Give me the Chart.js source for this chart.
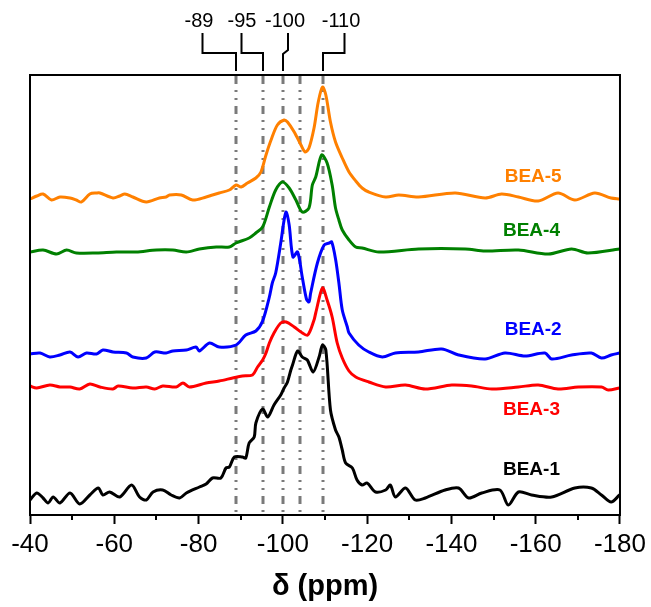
<!DOCTYPE html>
<html><head><meta charset="utf-8">
<script src="https://cdn.jsdelivr.net/npm/chart.js@4.4.1/dist/chart.umd.min.js"></script>
<style>html,body{margin:0;padding:0;background:#fff}canvas{display:block}</style>
</head><body>
<canvas id="c" width="651" height="607"></canvas>
<script>
// ---- data (x: chemical shift in ppm, y: stacked intensity, arbitrary units) ----
const seriesNames = ['BEA-5', 'BEA-4', 'BEA-2', 'BEA-3', 'BEA-1'];
const seriesColors = ['#FF8000', '#008000', '#0000FF', '#FF0000', '#000000'];

const bea5Ppm = [-40.0,-41.6,-43.1,-45.1,-47.1,-49.5,-51.0,-52.2,-54.2,-55.8,-56.6,-59.7,-61.3,-62.5,-64.4,-67.6,-70.7,-72.3,-73.1,-75.9,-78.6,-81.8,-83.3,-84.9,-87.3,-88.9,-90.1,-91.6,-93.6,-94.8,-96.0,-97.2,-98.7,-100.3,-101.1,-102.7,-104.3,-105.3,-106.2,-107.4,-108.4,-109.4,-110.2,-111.3,-112.5,-114.1,-115.7,-117.3,-118.8,-120.4,-124.4,-127.5,-132.2,-140.9,-148.0,-151.9,-155.9,-160.6,-165.3,-169.3,-174.0,-177.9,-179.9];
const bea5Int = [316,319,321,315,318,317,315,313,321,322,322,317,319,321,318,313,317,318,320,320,315,318,320,322,325,330,328,332,337,343,360,375,390,395,393,383,370,363,367,387,413,428,420,393,373,357,343,334,327,323,318,320,318,322,317,321,318,314,322,315,322,317,316];

const bea4Ppm = [-40.0,-43.1,-46.3,-48.7,-51.0,-55.8,-60.5,-65.2,-70.0,-73.9,-77.1,-80.2,-84.2,-87.3,-88.9,-92.0,-93.6,-95.2,-96.8,-98.3,-99.9,-101.5,-103.1,-104.6,-106.2,-107.0,-107.8,-109.2,-110.5,-111.7,-112.5,-113.3,-114.1,-115.7,-117.3,-118.8,-122.8,-132.2,-143.3,-148.0,-155.9,-163.0,-168.5,-172.4,-179.9];
const bea4Int = [263,265,261,265,262,262,263,263,265,265,263,266,268,268,272,277,282,288,308,325,333,327,315,303,307,330,338,360,352,330,307,295,285,275,268,267,263,266,266,264,265,261,266,262,266];

const bea2Ppm = [-40.0,-42.4,-44.7,-47.1,-49.5,-51.4,-53.4,-55.8,-57.3,-59.7,-62.9,-64.4,-67.6,-69.6,-72.3,-73.9,-77.1,-79.4,-80.2,-82.6,-84.9,-88.9,-91.2,-93.6,-95.2,-96.8,-97.5,-98.3,-99.5,-100.3,-100.8,-101.5,-102.4,-103.5,-104.6,-105.6,-106.2,-106.6,-108.2,-109.8,-111.0,-111.6,-112.5,-113.3,-114.1,-115.3,-115.7,-118.0,-120.4,-123.6,-126.7,-132.2,-137.7,-141.7,-148.0,-152.7,-157.5,-162.2,-163.8,-168.5,-173.2,-175.6,-177.9,-179.9];
const bea2Int = [161,162,158,160,163,158,162,161,165,163,162,158,157,163,162,164,165,168,164,172,168,170,180,184,194,218,232,242,272,295,303,290,258,263,238,216,213,222,252,270,272,273,256,232,205,188,182,170,163,158,162,163,166,160,156,162,159,162,156,160,162,157,160,162];

const bea3Ppm = [-40.0,-41.6,-44.7,-47.1,-49.5,-51.8,-54.2,-56.6,-59.7,-60.9,-64.4,-67.6,-69.6,-71.5,-74.7,-76.3,-77.8,-81.8,-84.9,-88.1,-90.4,-92.8,-94.0,-95.2,-96.0,-96.8,-97.9,-99.5,-100.8,-102.7,-104.3,-105.9,-107.4,-107.8,-109.4,-110.5,-111.7,-112.9,-114.1,-115.7,-117.3,-120.4,-124.4,-129.1,-133.8,-140.1,-144.8,-149.6,-155.9,-160.6,-165.3,-170.1,-175.6,-177.2,-179.9];
const bea3Int = [129,127,130,128,128,126,131,128,126,129,127,128,126,129,128,132,128,132,134,137,139,140,148,155,162,172,182,192,193,188,183,180,195,202,227,215,198,172,157,144,138,133,128,130,126,130,129,126,128,130,126,128,128,125,127];

const bea1Ppm = [-40.0,-41.6,-43.1,-44.3,-45.5,-47.1,-49.5,-51.8,-54.2,-56.2,-57.3,-58.9,-61.3,-64.1,-66.0,-67.6,-69.2,-71.5,-73.5,-75.5,-77.1,-80.2,-81.8,-83.3,-85.3,-86.5,-87.3,-88.5,-90.4,-91.2,-92.0,-93.2,-93.6,-95.2,-96.4,-97.9,-99.5,-100.3,-101.1,-101.9,-102.3,-103.5,-104.6,-105.8,-107.2,-108.6,-109.4,-110.2,-111.3,-112.5,-113.3,-114.1,-114.9,-116.5,-117.6,-118.8,-120.0,-122.0,-124.4,-125.5,-126.7,-129.1,-131.4,-133.8,-138.5,-141.7,-144.1,-147.2,-151.5,-153.5,-155.9,-159.0,-163.8,-169.3,-173.2,-175.6,-177.9,-179.9];
const bea1Int = [15,22,17,12,18,12,22,11,20,27,20,23,18,30,18,15,23,25,20,17,22,28,31,37,37,47,48,58,58,57,72,78,92,106,98,110,120,127,133,145,150,164,158,155,143,158,170,165,105,85,78,65,52,47,35,30,32,23,25,30,18,27,15,17,25,27,17,22,25,10,23,20,18,27,27,20,13,20];

const xTickStep = 20;
const minorTicks = [-50,-70,-90,-110,-130,-150,-170];
const refLines = [-89, -95.3, -100, -104, -109.5];
const refLabels = ['-89', '-95', '-100', null, '-110'];

const ppmList = [bea5Ppm, bea4Ppm, bea2Ppm, bea3Ppm, bea1Ppm];
const intList = [bea5Int, bea4Int, bea2Int, bea3Int, bea1Int];

const FONT = '"Liberation Sans", Arial, Helvetica, sans-serif';

const datasets = seriesNames.map((name, i) => ({
  label: name,
  data: ppmList[i].map((x, j) => ({x: x, y: intList[i][j]})),
  borderColor: seriesColors[i],
  backgroundColor: seriesColors[i],
  borderWidth: 3,
  pointRadius: 0,
  fill: false,
  tension: 0.3,
  borderJoinStyle: 'round',
  borderCapStyle: 'round'
}));

// positions of the sample labels (in data units)
const labelPos = [
  {x: -159.4, y: 338}, {x: -159.0, y: 284}, {x: -159.4, y: 185},
  {x: -159.0, y: 105}, {x: -159.0, y: 45}
];
// bracket offsets (px) from each reference line for the top labels
const bracketOffsets = [-33.5, -21.5, 5, null, 21.5];
const labelTextOffsets = [-37, -21, 2, null, 18];

const overlay = {
  id: 'overlay',
  beforeDatasetsDraw(chart) {
    const {ctx, chartArea: a, scales: {x}} = chart;
    ctx.save();
    ctx.strokeStyle = '#7a7a7a';
    ctx.lineWidth = 3;
    ctx.setLineDash([8, 6, 2, 6, 2, 6]);
    refLines.forEach(v => {
      const px = Math.round(x.getPixelForValue(v));
      ctx.beginPath();
      ctx.moveTo(px, a.top + 1);
      ctx.lineTo(px, a.bottom);
      ctx.stroke();
    });
    ctx.restore();
  },
  afterDatasetsDraw(chart) {
    const {ctx, chartArea: a, scales: {x, y}} = chart;
    ctx.save();
    // frame
    ctx.strokeStyle = '#000';
    ctx.lineWidth = 2;
    ctx.strokeRect(a.left, a.top, a.right - a.left, a.bottom - a.top);
    // minor ticks
    ctx.beginPath();
    minorTicks.forEach(v => {
      const px = Math.round(x.getPixelForValue(v));
      ctx.moveTo(px, a.bottom);
      ctx.lineTo(px, a.bottom + 5);
    });
    ctx.stroke();
    // series labels
    ctx.font = 'bold 19px ' + FONT;
    ctx.textAlign = 'center';
    ctx.textBaseline = 'middle';
    seriesNames.forEach((n, i) => {
      ctx.fillStyle = seriesColors[i];
      ctx.fillText(n, x.getPixelForValue(labelPos[i].x), y.getPixelForValue(labelPos[i].y));
    });
    // top labels with brackets
    ctx.fillStyle = '#000';
    ctx.font = '20px ' + FONT;
    ctx.lineWidth = 2;
    ctx.setLineDash([]);
    refLines.forEach((v, i) => {
      if (!refLabels[i]) return;
      const lx = Math.round(x.getPixelForValue(v));
      const bx = lx + bracketOffsets[i];
      ctx.fillText(refLabels[i], lx + labelTextOffsets[i], 21);
      ctx.beginPath();
      if (refLabels[i] === '-100') {
        ctx.moveTo(bx, 33); ctx.lineTo(bx, 50); ctx.lineTo(lx, 54); ctx.lineTo(lx, 71);
      } else {
        ctx.moveTo(bx, 33); ctx.lineTo(bx, 53); ctx.lineTo(lx, 53); ctx.lineTo(lx, 71);
      }
      ctx.stroke();
    });
    ctx.restore();
  }
};

new Chart(document.getElementById('c'), {
  type: 'line',
  data: {datasets},
  options: {
    responsive: false,
    animation: false,
    devicePixelRatio: 1,
    layout: {padding: {left: 30, right: 29, top: 75, bottom: 0}},
    plugins: {legend: {display: false}, tooltip: {enabled: false}},
    scales: {
      x: {
        type: 'linear',
        min: -180, max: -40,
        reverse: true,
        afterFit(scale) { scale.height = 92; },
        ticks: {
          stepSize: xTickStep,
          color: '#000',
          padding: 5,
          font: {family: FONT, size: 26},
          maxRotation: 0,
          callback: v => String(v)
        },
        grid: {drawOnChartArea: false, drawTicks: true, tickLength: 9, tickColor: '#000', tickWidth: 2},
        border: {display: false},
        title: {
          display: true,
          text: 'δ (ppm)',
          color: '#000',
          font: {family: FONT, size: 29, weight: 'bold'},
          padding: {top: 0, bottom: 3}
        }
      },
      y: {
        type: 'linear',
        display: false,
        min: 0, max: 440
      }
    }
  },
  plugins: [overlay]
});
</script>
</body></html>
